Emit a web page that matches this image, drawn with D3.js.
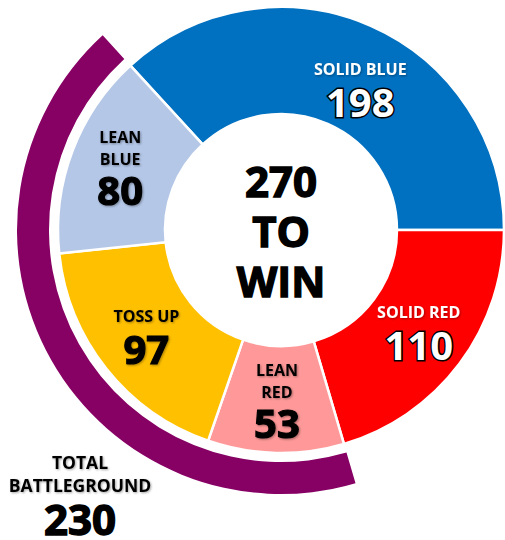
<!DOCTYPE html>
<html>
<head>
<meta charset="utf-8">
<script src="https://cdn.jsdelivr.net/npm/d3@7"></script>
<style>
  body { margin: 0; background: #fff; }
  text { font-family: "Open Sans", "Noto Sans", sans-serif; font-weight: bold; }
</style>
</head>
<body>
<div id="chart"></div>
<script>
// slice data, clockwise from solid blue
const categories = ['SOLID BLUE', 'SOLID RED', 'LEAN RED', 'TOSS UP', 'LEAN BLUE'];
const nameLines = [['SOLID BLUE'], ['SOLID RED'], ['LEAN', 'RED'], ['TOSS UP'], ['LEAN', 'BLUE']];
const votes = [198, 110, 53, 97, 80];
const colors = ['#0070C0', '#FF0000', '#FF9999', '#FFC000', '#B4C7E7'];
const battleground = ['LEAN RED', 'TOSS UP', 'LEAN BLUE'];
const centerLines = ['270', 'TO', 'WIN'];
const totalLines = ['TOTAL', 'BATTLEGROUND'];

var width = 505, height = 540;
var cx = 281, cy = 230;
var rInner = 116, rOuter = 223;

var svg = d3.select("#chart").append("svg")
  .attr("width", width)
  .attr("height", height);

var defs = svg.append("defs");
var f = defs.append("filter").attr("id", "shadow")
  .attr("x", "-20%").attr("y", "-20%").attr("width", "140%").attr("height", "140%");
f.append("feDropShadow").attr("dx", 1).attr("dy", 1).attr("stdDeviation", 1)
  .attr("flood-color", "#000").attr("flood-opacity", 0.35);

var g = svg.append("g").attr("transform", "translate(" + cx + "," + cy + ")");

// rotate so that solid blue ends at 3 o'clock
var total = d3.sum(votes);
var start = Math.PI / 2 - votes[0] / total * 2 * Math.PI;

var data = categories.map(function(c, i) { return {name: c, lines: nameLines[i], value: votes[i], color: colors[i]}; });

var pie = d3.pie().value(function(d) { return d.value; }).sort(null)
  .startAngle(start).endAngle(start + 2 * Math.PI);
var arcs = pie(data);

var arc = d3.arc().innerRadius(rInner).outerRadius(rOuter);
var labelArc = d3.arc().innerRadius(172).outerRadius(172);

g.selectAll("path.slice")
  .data(arcs).enter().append("path")
  .attr("class", "slice")
  .attr("d", arc)
  .attr("fill", function(d) { return d.data.color; })
  .attr("stroke", "#fff")
  .attr("stroke-width", 2.5);

// battleground outer band
var bg = arcs.filter(function(d) { return battleground.indexOf(d.data.name) >= 0; });
var bgArc = d3.arc().innerRadius(232).outerRadius(264);
g.append("path")
  .attr("d", bgArc({startAngle: d3.min(bg, function(d) { return d.startAngle; }),
                    endAngle: d3.max(bg, function(d) { return d.endAngle; })}))
  .attr("fill", "#870064");

// slice labels (the big solid blue label sits a bit lower/right than its centroid)
var labels = g.selectAll("g.label")
  .data(arcs).enter().append("g")
  .attr("class", "label")
  .attr("transform", function(d) {
    var c = labelArc.centroid(d);
    if (d.data.name === 'SOLID BLUE') { c[0] += 10; c[1] += 17; }
    return "translate(" + c + ")";
  });

labels.each(function(d) {
  var sel = d3.select(this);
  var solid = d.data.name.indexOf('SOLID') === 0;
  var n = d.data.lines.length;
  var top = n === 2 ? -26 : -15;
  d.data.lines.forEach(function(t, i) {
    sel.append("text")
      .attr("text-anchor", "middle")
      .attr("y", top + i * 22)
      .attr("font-size", 16)
      .attr("fill", solid ? "#fff" : "#000")
      .attr("filter", "url(#shadow)")
      .text(t);
  });
  sel.append("text")
    .attr("text-anchor", "middle")
    .attr("y", n === 2 ? 36 : 27)
    .attr("font-size", 40)
    .attr("fill", solid ? "#fff" : "#000")
    .attr("stroke", "#000")
    .attr("stroke-width", solid ? 3 : 1.2)
    .attr("paint-order", "stroke")
    .attr("filter", solid ? null : "url(#shadow)")
    .text(d.data.value);
});

// center text
g.selectAll("text.center")
  .data(centerLines).enter().append("text")
  .attr("class", "center")
  .attr("text-anchor", "middle")
  .attr("y", function(d, i) { return -33 + i * 50; })
  .attr("font-size", 42)
  .attr("fill", "#000")
  .attr("stroke", "#000")
  .attr("stroke-width", 1.4)
  .text(function(d) { return d; });

// total battleground
var tb = svg.append("g").attr("transform", "translate(80,0)");
tb.selectAll("text.tl")
  .data(totalLines).enter().append("text")
  .attr("class", "tl")
  .attr("text-anchor", "middle")
  .attr("y", function(d, i) { return 469 + i * 23; })
  .attr("font-size", 17.5)
  .attr("filter", "url(#shadow)")
  .text(function(d) { return d; });
tb.append("text")
  .attr("text-anchor", "middle")
  .attr("y", 535)
  .attr("font-size", 42)
  .attr("stroke", "#000")
  .attr("stroke-width", 1.4)
  .text(d3.sum(bg, function(d) { return d.value; }));
</script>
</body>
</html>
